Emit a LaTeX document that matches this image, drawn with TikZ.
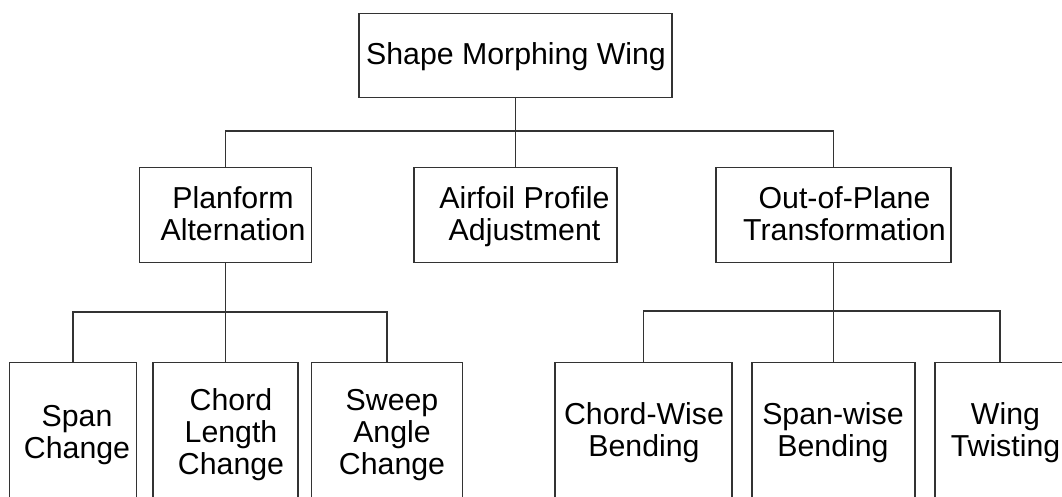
\documentclass[tikz,border=0pt]{standalone}
\usepackage{fontspec}
\setmainfont{Liberation Sans}
\begin{document}
\begin{tikzpicture}[x=1pt,y=-1pt,
  box/.style={draw=black!80, line width=1.4pt, rectangle, inner sep=0pt, anchor=north},
  txt/.style={align=center, inner sep=0pt, text depth=0pt, font=\fontsize{30.3}{32}\selectfont},
  conn/.style={draw=black!80, line width=1.4pt}]
\useasboundingbox (0,0) rectangle (1062,497);
\clip (0,0) rectangle (1062,497);
% boxes
\node[box, minimum width=313pt, minimum height=84pt] (top) at (515.5,13) {};
\node[box, minimum width=172pt, minimum height=95pt] (plan) at (225.5,167) {};
\node[box, minimum width=203pt, minimum height=95pt] (air) at (515.5,167) {};
\node[box, minimum width=235pt, minimum height=95pt] (oop) at (833.5,167) {};
\node[box, minimum width=127pt, minimum height=160pt] (span) at (73,362) {};
\node[box, minimum width=145pt, minimum height=160pt] (chordlen) at (225.5,362) {};
\node[box, minimum width=151pt, minimum height=160pt] (sweep) at (387,362) {};
\node[box, minimum width=177pt, minimum height=160pt] (cwb) at (643.5,362) {};
\node[box, minimum width=163pt, minimum height=160pt] (swb) at (833.5,362) {};
\node[box, minimum width=130pt, minimum height=160pt] (twist) at (1000,362) {};
% texts
\node[txt] (top-t) at (516,54) {Shape Morphing Wing};
\node[txt] (plan-t) at (233,214) {Planform\\Alternation};
\node[txt] (air-t) at (524.5,214) {Airfoil Profile\\Adjustment};
\node[txt] (oop-t) at (844.5,214) {Out-of-Plane\\Transformation};
\node[txt] (span-t) at (77,432) {Span\\Change};
\node[txt] (chordlen-t) at (231,432) {Chord\\Length\\Change};
\node[txt] (sweep-t) at (392,432) {Sweep\\Angle\\Change};
\node[txt] (cwb-t) at (644,430) {Chord-Wise\\Bending};
\node[txt] (swb-t) at (833,430) {Span-wise\\Bending};
\node[txt] (twist-t) at (1005.5,430) {Wing\\Twisting};
% buses
\coordinate (b1) at (515.5,131);
\coordinate (b2) at (225.5,312);
\coordinate (b3) at (833.5,311);
% connectors
\draw[conn] (top.south) -- (b1);
\draw[conn] (plan.north) |- (b1) -| (oop.north);
\draw[conn] (b1) -- (air.north);
\draw[conn] (plan.south) -- (b2);
\draw[conn] (span.north) |- (b2) -| (sweep.north);
\draw[conn] (b2) -- (chordlen.north);
\draw[conn] (oop.south) -- (b3);
\draw[conn] (cwb.north) |- (b3) -| (twist.north);
\draw[conn] (b3) -- (swb.north);
\end{tikzpicture}
\end{document}
